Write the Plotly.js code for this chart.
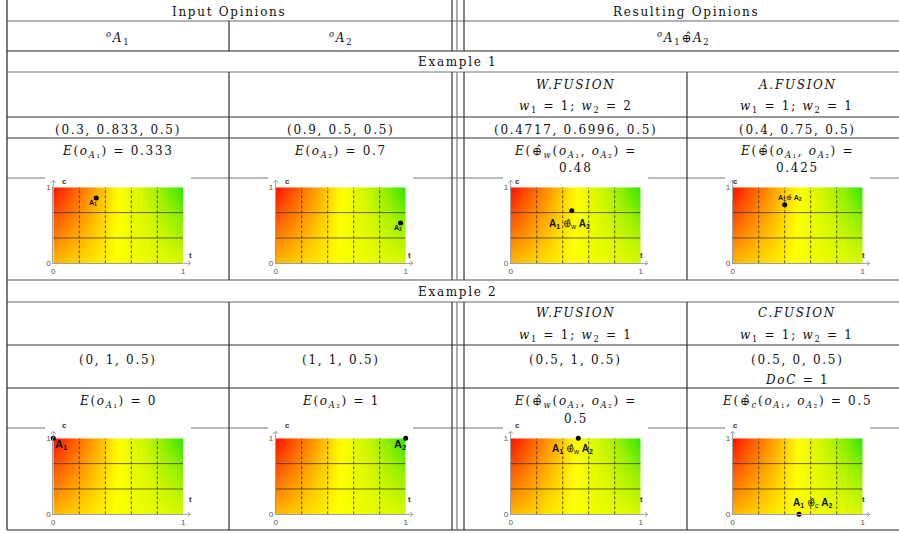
<!DOCTYPE html>
<html>
<head>
<meta charset="utf-8">
<script src="https://cdn.plot.ly/plotly-3.0.1.min.js"></script>
<style>
html,body{margin:0;padding:0;background:#fff;}
text.annotation-text[style*="Serif"]{letter-spacing:1.7px;}
</style>
</head>
<body>
<div id="chart" style="width:899px;height:533px"></div>
<script>
// ---------------- data ----------------
const groupHeaders = ['Input Opinions', 'Resulting Opinions'];
const opinionHeaders = [
  '<sup><i>o</i></sup><i>A</i><sub>1</sub>',
  '<sup><i>o</i></sup><i>A</i><sub>2</sub>',
  '<sup><i>o</i></sup><i>A</i><sub>1</sub>\u2295\u0302<i>A</i><sub>2</sub>'
];
const exampleNames = ['Example 1', 'Example 2'];
const fusionNames = [['<i>W.FUSION</i>', '<i>A.FUSION</i>'], ['<i>W.FUSION</i>', '<i>C.FUSION</i>']];
const fusionWeights = [
  ['<i>w</i><sub>1</sub> = 1; <i>w</i><sub>2</sub> = 2', '<i>w</i><sub>1</sub> = 1; <i>w</i><sub>2</sub> = 1'],
  ['<i>w</i><sub>1</sub> = 1; <i>w</i><sub>2</sub> = 1', '<i>w</i><sub>1</sub> = 1; <i>w</i><sub>2</sub> = 1']
];
const ex1Tuples = ['(0.3, 0.833, 0.5)', '(0.9, 0.5, 0.5)', '(0.4717, 0.6996, 0.5)', '(0.4, 0.75, 0.5)'];
const ex2Tuples = ['(0, 1, 0.5)', '(1, 1, 0.5)', '(0.5, 1, 0.5)', '(0.5, 0, 0.5)'];
const ex2Extra = '<i>DoC</i> = 1';
const oA1 = '<i>o</i><sub><i>A</i>\u2081</sub>';
const oA2 = '<i>o</i><sub><i>A</i>\u2082</sub>';
const ex1Expect = [
  ['<i>E</i>(' + oA1 + ') = 0.333', ''],
  ['<i>E</i>(' + oA2 + ') = 0.7', ''],
  ['<i>E</i>(\u2295\u0302<sub><i>w</i></sub>(' + oA1 + ', ' + oA2 + ') =', '0.48'],
  ['<i>E</i>(\u2295\u0302(' + oA1 + ', ' + oA2 + ') =', '0.425']
];
const ex2Expect = [
  ['<i>E</i>(' + oA1 + ') = 0', ''],
  ['<i>E</i>(' + oA2 + ') = 1', ''],
  ['<i>E</i>(\u2295\u0302<sub><i>w</i></sub>(' + oA1 + ', ' + oA2 + ') =', '0.5'],
  ['<i>E</i>(\u2295\u0302<sub><i>c</i></sub>(' + oA1 + ', ' + oA2 + ') = 0.5', '']
];
// point positions (trust t, confidence c)
const ex1T = [0.33, 0.96, 0.47, 0.40];
const ex1C = [0.86, 0.53, 0.69, 0.77];
const ex2T = [0, 1, 0.52, 0.51];
const ex2C = [1, 1, 1, 0];
const ex1Labels = [
  '<b>A</b><sub><b>1</b></sub>',
  '<b>A</b><sub><b>2</b></sub>',
  '<b>A</b><sub><b>1</b></sub> \u2295\u0302<sub>w</sub> <b>A</b><sub><b>2</b></sub>',
  '<b>A</b><sub><b>1</b></sub>\u2295\u0302 <b>A</b><sub><b>2</b></sub>'
];
const ex2Labels = [
  '<b>A</b><sub><b>1</b></sub>',
  '<b>A</b><sub><b>2</b></sub>',
  '<b>A</b><sub><b>1</b></sub> \u2295\u0302<sub>w</sub> <b>A</b><sub><b>2</b></sub>',
  '<b>A</b><sub><b>1</b></sub> \u2295\u0302<sub>c</sub> <b>A</b><sub><b>2</b></sub>'
];
const trustDivisions = [0.2, 0.4, 0.6, 0.8];
const confDivisions = [1 / 3, 2 / 3];
const axisTickVals = [0, 1];
const axisTickText = ['0', '1'];
// corner values of the background expectation gradient: rows c=0, c=1; cols t=0, t=1
const gradientZ = [[0.36, 0.66], [0, 1]];

// ---------------- layout helpers ----------------
const W = 899, H = 533;
const X = p => p / W;
const Y = p => 1 - p / H;
const serif = {family: 'DejaVu Serif', size: 12, color: '#111'};
const annotations = [];
const shapes = [];
function txt(x, y, text, font) {
  annotations.push({xref: 'paper', yref: 'paper', x: X(x), y: Y(y), text: text, showarrow: false,
    xanchor: 'center', yanchor: 'middle', font: font || serif});
}
function seg(x0, y0, x1, y1, color, width) {
  shapes.push({type: 'line', xref: 'paper', yref: 'paper', x0: X(x0), x1: X(x1), y0: Y(y0), y1: Y(y1),
    line: {color: color || '#333', width: width || 1}, layer: 'below'});
}

// column centres / boundaries (px)
const colCenter = [118, 340.5, 575.5, 797];
const leftX = 7, rightX = 899;

// horizontal rules
[[21, '#666'], [51, '#222'], [72, '#777'], [117, '#333'], [138, '#333'], [178, '#777'],
 [280, '#555'], [302, '#666'], [345, '#333'], [388, '#222'], [428, '#777'], [530, '#222']]
  .forEach(([y, c]) => seg(leftX, y, rightX, y, c, 1.2));
// vertical rules
seg(7, 0, 7, 530, '#333', 1.3);
[[21, 51], [72, 280], [302, 530]].forEach(([a, b]) => seg(229, a, 229, b, '#333', 1.2));
[[0, 51], [72, 280], [302, 530]].forEach(([a, b]) => {
  seg(452, a, 452, b, '#333', 1.2);
  seg(457, a, 457, b, '#777', 1.2);
  seg(464, a, 464, b, '#333', 1.2);
});
[[72, 280], [302, 530]].forEach(([a, b]) => seg(687, a, 687, b, '#333', 1.2));

// white picture backgrounds covering the rule above each plot
const imgCols = [[45, 191], [268, 413], [503, 648], [725, 870]];
const imgRows = [[176, 279], [426, 529]];
imgRows.forEach(r => imgCols.forEach(c => shapes.push({type: 'rect', xref: 'paper', yref: 'paper',
  x0: X(c[0]), x1: X(c[1]), y0: Y(r[1]), y1: Y(r[0]), fillcolor: '#fff', line: {width: 0}, layer: 'below'})));

// table texts
txt(229.5, 12, groupHeaders[0]);
txt(686, 12, groupHeaders[1]);
txt(colCenter[0], 38, opinionHeaders[0]);
txt(colCenter[1], 38, opinionHeaders[1]);
txt(683, 38, opinionHeaders[2]);
txt(457, 62, exampleNames[0]);
txt(457, 292, exampleNames[1]);
const rowsY = [
  {name: 85, weight: 107, tuple: 130, extra: null, e1: 152, e2: 168},
  {name: 313, weight: 336, tuple: 360, extra: 380, e1: 402, e2: 419}
];
[ex1Tuples, ex2Tuples].forEach((tuples, e) => {
  const ry = rowsY[e];
  const exps = e === 0 ? ex1Expect : ex2Expect;
  for (let j = 0; j < 2; j++) {
    txt(colCenter[2 + j], ry.name, fusionNames[e][j]);
    txt(colCenter[2 + j], ry.weight, fusionWeights[e][j]);
  }
  tuples.forEach((t, j) => txt(colCenter[j], ry.tuple, t));
  if (ry.extra) txt(colCenter[3], ry.extra, ex2Extra);
  exps.forEach((ex, j) => {
    txt(colCenter[j], ry.e1, ex[0]);
    if (ex[1]) txt(colCenter[j], ry.e2, ex[1]);
  });
});

// ---------------- small opinion plots ----------------
const colRects = [[53.3, 183.3], [275.7, 405.7], [510.7, 640.7], [732.7, 862.7]];
const rowRects = [[187.3, 263.3], [438.3, 514.3]];
const labelStyle = [
  [-3, -5.5, 7], [-3, -5, 7], [-2, -13, 10], [5, 7, 7],
  [8, -7, 11], [-6, -7, 11], [-6, -11, 10], [13, 11, 10]
];
const gradientScale = [
  [0, '#ff1200'], [0.18, '#ff6400'], [0.34, '#ffae00'], [0.5, '#ffff00'],
  [0.66, '#d6f800'], [0.82, '#98f000'], [1, '#2ae800']
];
const traces = [];
const layout = {
  width: W, height: H, margin: {l: 0, r: 0, t: 0, b: 0},
  paper_bgcolor: '#fff', plot_bgcolor: 'rgba(0,0,0,0)', showlegend: false,
  annotations: annotations, shapes: shapes, dragmode: false
};
const tickFont = {family: 'Liberation Sans', size: 8, color: '#555'};
const allT = [ex1T, ex2T], allC = [ex1C, ex2C], allL = [ex1Labels, ex2Labels];
for (let e = 0; e < 2; e++) {
  for (let j = 0; j < 4; j++) {
    const k = e * 4 + j;
    const xa = k === 0 ? 'x' : 'x' + (k + 1);
    const ya = k === 0 ? 'y' : 'y' + (k + 1);
    const xName = k === 0 ? 'xaxis' : 'xaxis' + (k + 1);
    const yName = k === 0 ? 'yaxis' : 'yaxis' + (k + 1);
    const [px0, px1] = colRects[j];
    const [py0, py1] = rowRects[e];
    layout[xName] = {domain: [X(px0), X(px1)], range: [0, 1], anchor: ya, showgrid: false, zeroline: false,
      showline: true, linecolor: '#a0a0a0', linewidth: 1, ticks: '', tickvals: axisTickVals,
      ticktext: axisTickText, tickfont: tickFont, fixedrange: true};
    layout[yName] = {domain: [Y(py1), Y(py0)], range: [0, 1], anchor: xa, showgrid: false, zeroline: false,
      showline: true, linecolor: '#a0a0a0', linewidth: 1, ticks: '', tickvals: axisTickVals,
      ticktext: axisTickText, tickfont: tickFont, fixedrange: true};
    traces.push({type: 'heatmap', x: [0, 1], y: [0, 1], z: gradientZ, zmin: 0, zmax: 1, zsmooth: 'best',
      colorscale: gradientScale, showscale: false, hoverinfo: 'skip', xaxis: xa, yaxis: ya});
    traces.push({type: 'scatter', mode: 'markers', x: [allT[e][j]], y: [allC[e][j]], xaxis: xa, yaxis: ya,
      marker: {color: '#000', size: 5}, cliponaxis: false, hoverinfo: 'skip'});
    // grid lines
    trustDivisions.forEach(t => shapes.push({type: 'line', xref: xa, yref: ya, x0: t, x1: t, y0: 0, y1: 1,
      line: {color: 'rgba(50,40,20,0.8)', width: 1, dash: '3px,2px'}, layer: 'above'}));
    confDivisions.forEach(c => shapes.push({type: 'line', xref: xa, yref: ya, x0: 0, x1: 1, y0: c, y1: c,
      line: {color: 'rgba(60,50,20,0.75)', width: 1}, layer: 'above'}));
    // axis arrows
    const ac = '#9a9a9a';
    shapes.push({type: 'line', xref: 'paper', yref: 'paper', x0: X(px0), x1: X(px0), y0: Y(py0), y1: Y(py0 - 7),
      line: {color: ac, width: 1}, layer: 'above'});
    shapes.push({type: 'path', xref: 'paper', yref: 'paper',
      path: `M ${X(px0 - 2.5)},${Y(py0 - 4.5)} L ${X(px0)},${Y(py0 - 7)} L ${X(px0 + 2.5)},${Y(py0 - 4.5)}`,
      line: {color: ac, width: 1}, layer: 'above'});
    shapes.push({type: 'line', xref: 'paper', yref: 'paper', x0: X(px1), x1: X(px1 + 7), y0: Y(py1), y1: Y(py1),
      line: {color: ac, width: 1}, layer: 'above'});
    shapes.push({type: 'path', xref: 'paper', yref: 'paper',
      path: `M ${X(px1 + 4.5)},${Y(py1 - 2.5)} L ${X(px1 + 7)},${Y(py1)} L ${X(px1 + 4.5)},${Y(py1 + 2.5)}`,
      line: {color: ac, width: 1}, layer: 'above'});
    annotations.push({xref: 'paper', yref: 'paper', x: X(px0 + 7), y: Y(py0 - 6), text: '<b>c</b>',
      showarrow: false, font: {family: 'Liberation Sans', size: 8, color: '#333'}});
    annotations.push({xref: 'paper', yref: 'paper', x: X(px1 + 4), y: Y(py1 - 8), text: '<b>t</b>',
      showarrow: false, font: {family: 'Liberation Sans', size: 8, color: '#333'}});
    // point label
    const ls = labelStyle[k];
    annotations.push({xref: xa, yref: ya, x: allT[e][j], y: allC[e][j], text: allL[e][j], showarrow: false,
      xshift: ls[0], yshift: ls[1], font: {family: 'Liberation Sans', size: ls[2], color: '#111'}});
  }
}

Plotly.newPlot('chart', traces, layout, {displayModeBar: false});
</script>
</body>
</html>
